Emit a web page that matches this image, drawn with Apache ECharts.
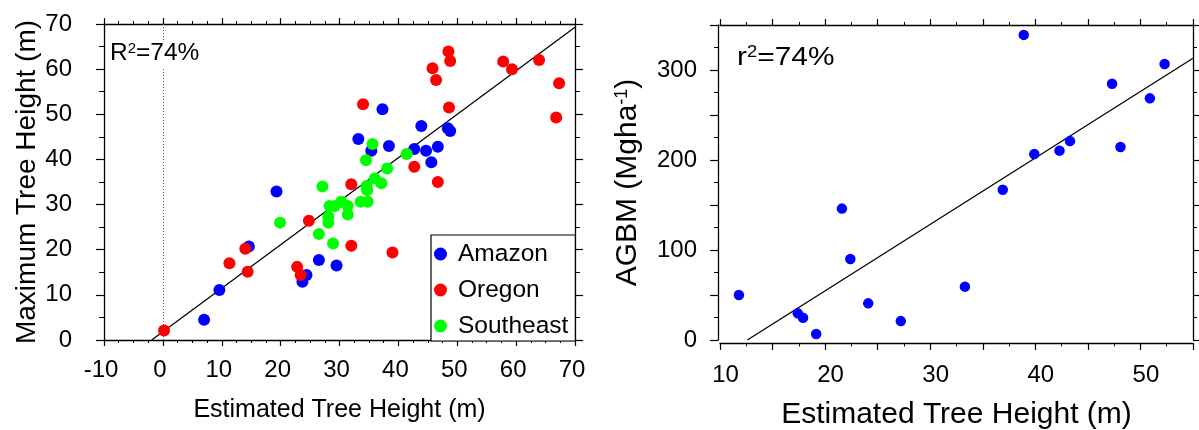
<!DOCTYPE html>
<html>
<head>
<meta charset="utf-8">
<script src="https://cdn.jsdelivr.net/npm/echarts@6/dist/echarts.min.js"></script>
<style>
  html, body { margin: 0; padding: 0; background: #fff; }
  #chart { width: 1199px; height: 430px; }
</style>
</head>
<body>
<div id="chart"></div>
<script>
// Estimated vs. maximum tree height (m), by region
const amazon = [
  [7.0, 4.5], [9.6, 11.1], [14.6, 20.7], [19.3, 32.9], [23.7, 12.9], [24.4, 14.4],
  [26.5, 17.7], [29.5, 16.5], [33.2, 44.5], [35.4, 41.9], [37.3, 51.1], [38.4, 43.0],
  [42.7, 42.3], [43.9, 47.4], [44.7, 41.9], [45.6, 39.4], [46.7, 42.8], [48.4, 46.9],
  [48.8, 46.3]
];
const oregon = [
  [0.2, 2.1], [11.3, 17.0], [14.0, 20.2], [14.4, 15.1], [22.8, 16.2], [23.4, 14.4],
  [24.8, 26.4], [32.0, 20.9], [32.0, 34.5], [34.0, 52.2], [39.0, 19.4], [42.7, 38.4],
  [45.8, 60.2], [46.4, 57.6], [46.7, 35.0], [48.5, 63.9], [48.8, 61.8], [48.6, 51.5],
  [57.8, 61.7], [59.3, 60.0], [63.9, 62.0], [66.8, 49.3], [67.3, 56.9]
];
const southeast = [
  [19.9, 26.0], [26.5, 23.5], [27.1, 34.0], [28.1, 27.3], [28.1, 26.0], [28.3, 29.7],
  [28.9, 21.4], [29.2, 29.7], [30.3, 30.6], [31.4, 29.7], [31.4, 27.8], [33.6, 30.6],
  [34.5, 39.8], [34.6, 34.1], [34.7, 33.2], [34.8, 30.6], [35.6, 43.4], [36.0, 35.8],
  [37.1, 34.7], [38.1, 38.0], [41.4, 41.2]
];
const heightFit = [[-1.9, 0], [70, 69.3]];

// Estimated tree height (m) vs. above-ground biomass (Mg/ha)
const agbm = [
  [11.8, 50], [17.4, 29.6], [17.9, 24.8], [19.15, 6.7], [21.6, 146], [22.4, 90],
  [24.1, 40.7], [27.2, 21], [33.3, 59.3], [36.9, 167], [38.9, 339], [39.9, 206.7],
  [42.3, 210.4], [43.3, 221], [47.3, 284.8], [48.1, 214.4], [50.9, 268.5], [52.3, 306.7]
];
const agbmFit = [[12.6, 0], [55, 313]];

const groupNames = ['Amazon', 'Oregon', 'Southeast'];
const groupColors = ['#0000ff', '#ff0000', '#00ff00'];
const groupData = [amazon, oregon, southeast];

const FONT = "'Liberation Sans', Arial, Helvetica, sans-serif";
const INK = '#000';

function axisBase(extra) {
  return Object.assign({
    type: 'value',
    axisLine: { show: true, onZero: false, lineStyle: { color: INK, width: 1.3 } },
    splitLine: { show: false },
    axisLabel: { show: false },
  }, extra);
}

const chart = echarts.init(document.getElementById('chart'), null, { renderer: 'canvas' });

const option = {
  backgroundColor: '#fff',
  animation: false,
  textStyle: { fontFamily: FONT, color: INK },
  grid: [
    { left: 104, right: 624, top: 24, bottom: 90, containLabel: false, outerBoundsMode: 'none' },
    { left: 720, right: 6, top: 25, bottom: 90, containLabel: false, outerBoundsMode: 'none' }
  ],
  legend: {
    data: groupNames,
    orient: 'vertical',
    left: 431, top: 235,
    padding: [6, 7, 2, 3],
    itemGap: 10,
    itemWidth: 13, itemHeight: 13,
    icon: 'circle',
    borderColor: INK, borderWidth: 1.2,
    backgroundColor: '#fff',
    textStyle: { fontSize: 24.5, color: INK, fontFamily: FONT, lineHeight: 26, padding: [0, 0, 0, 6] }
  },
  xAxis: [
    axisBase({
      gridIndex: 0, position: 'bottom', min: -10, max: 70, interval: 10,
      axisTick: { show: true, length: 6, lineStyle: { color: INK, width: 1.2 } },
      minorTick: { show: true, splitNumber: 4, length: 3, lineStyle: { color: INK, width: 1 } },
      axisLabel: { show: true, fontSize: 24, color: INK, fontFamily: FONT, margin: 18, padding: [0, 6, 0, 0] },
      name: 'Estimated Tree Height (m)', nameLocation: 'middle', nameGap: 58,
      nameTextStyle: { fontSize: 25, color: INK, fontFamily: FONT }
    }),
    axisBase({
      gridIndex: 0, position: 'top', min: -10, max: 70, interval: 10,
      axisTick: { show: true, length: 6, lineStyle: { color: INK, width: 1.2 } },
      minorTick: { show: true, splitNumber: 4, length: 3, lineStyle: { color: INK, width: 1 } }
    }),
    axisBase({
      gridIndex: 1, position: 'bottom', offset: 3, min: 10, max: 55, interval: 5,
      axisTick: { show: true, length: 7, lineStyle: { color: INK, width: 1.2 } },
      minorTick: { show: true, splitNumber: 2, length: 3.5, lineStyle: { color: INK, width: 1 } },
      axisLabel: {
        show: true, fontSize: 24, color: INK, fontFamily: FONT, margin: 20, padding: [0, 0, 0, 11],
        formatter: v => (v % 10 === 0 ? String(v) : '')
      },
      name: 'Estimated Tree Height (m)', nameLocation: 'middle', nameGap: 57,
      nameTextStyle: { fontSize: 30, color: INK, fontFamily: FONT }
    }),
    axisBase({
      gridIndex: 1, position: 'top', min: 10, max: 55, interval: 5,
      axisTick: { show: true, length: 6, lineStyle: { color: INK, width: 1.2 } },
      minorTick: { show: true, splitNumber: 2, length: 3, lineStyle: { color: INK, width: 1 } }
    })
  ],
  yAxis: [
    axisBase({
      gridIndex: 0, position: 'left', min: 0, max: 70, interval: 10,
      axisTick: { show: true, length: 8, lineStyle: { color: INK, width: 1.2 } },
      minorTick: { show: true, splitNumber: 2, length: 5, lineStyle: { color: INK, width: 1 } },
      axisLabel: { show: true, fontSize: 24, color: INK, fontFamily: FONT, margin: 32 },
      name: 'Maximum Tree Height (m)', nameLocation: 'middle', nameGap: 62,
      nameTextStyle: { fontSize: 28, color: INK, fontFamily: FONT }
    }),
    axisBase({
      gridIndex: 0, position: 'right', min: 0, max: 70, interval: 10,
      axisTick: { show: true, length: 8, lineStyle: { color: INK, width: 1.2 } },
      minorTick: { show: true, splitNumber: 2, length: 5, lineStyle: { color: INK, width: 1 } }
    }),
    axisBase({
      gridIndex: 1, position: 'left', offset: 2, min: 0, max: 350, interval: 50,
      axisTick: { show: true, length: 8, lineStyle: { color: INK, width: 1.2 } },
      minorTick: { show: true, splitNumber: 2, length: 4, lineStyle: { color: INK, width: 1 } },
      axisLabel: {
        show: true, fontSize: 24, color: INK, fontFamily: FONT, margin: 21,
        formatter: v => (v % 100 === 0 ? String(v) : '')
      },
      name: '{t|AGBM (Mgha}{s|-1}{t|)}', nameLocation: 'middle', nameGap: 75,
      nameTextStyle: {
        fontSize: 30, color: INK, fontFamily: FONT,
        rich: {
          t: { fontSize: 30, color: INK, fontFamily: FONT },
          s: { fontSize: 18, color: INK, fontFamily: FONT, verticalAlign: 'top' }
        }
      }
    }),
    axisBase({
      gridIndex: 1, position: 'right', min: 0, max: 350, interval: 50,
      axisTick: { show: true, length: 8, lineStyle: { color: INK, width: 1.2 } },
      minorTick: { show: true, splitNumber: 2, length: 4, lineStyle: { color: INK, width: 1 } }
    })
  ],
  graphic: [
    {
      type: 'text', x: 108, y: 40, z: 100,
      style: {
        text: '{a|R}{s|2}{a|=74%}',
        fill: INK,
        backgroundColor: '#fff',
        padding: [1, 2, 1, 2],
        rich: {
          a: { fontSize: 24.5, fontFamily: FONT, fill: INK },
          s: { fontSize: 15, fontFamily: FONT, fill: INK, verticalAlign: 'top' }
        }
      }
    },
    {
      type: 'text', x: 737, y: 45, z: 100, scaleX: 1.15,
      style: {
        text: '{a|r}{s|2}{a|=74%}',
        fill: INK,
        rich: {
          a: { fontSize: 26, fontFamily: FONT, fill: INK },
          s: { fontSize: 16, fontFamily: FONT, fill: INK, verticalAlign: 'top' }
        }
      }
    }
  ],
  series: [
    {
      name: 'fit-height', type: 'line', xAxisIndex: 0, yAxisIndex: 0,
      data: heightFit, showSymbol: false, silent: true, z: 2,
      lineStyle: { color: INK, width: 1.3 },
      markLine: {
        silent: true, symbol: 'none', label: { show: false },
        lineStyle: { color: '#555', type: [1, 2], width: 1 },
        data: [{ xAxis: 0 }]
      }
    },
    ...groupNames.map((name, i) => ({
      name, type: 'scatter', xAxisIndex: 0, yAxisIndex: 0,
      data: groupData[i], symbol: 'circle', symbolSize: 12, z: 3,
      itemStyle: { color: groupColors[i], opacity: 1 }
    })),
    {
      name: 'fit-agbm', type: 'line', xAxisIndex: 2, yAxisIndex: 2,
      data: agbmFit, showSymbol: false, silent: true, z: 2,
      lineStyle: { color: INK, width: 1.3 }
    },
    {
      name: 'AGBM', type: 'scatter', xAxisIndex: 2, yAxisIndex: 2,
      data: agbm, symbol: 'circle', symbolSize: 10.5, z: 3,
      itemStyle: { color: '#0000ff', opacity: 1 }
    }
  ]
};

chart.setOption(option);
</script>
</body>
</html>
